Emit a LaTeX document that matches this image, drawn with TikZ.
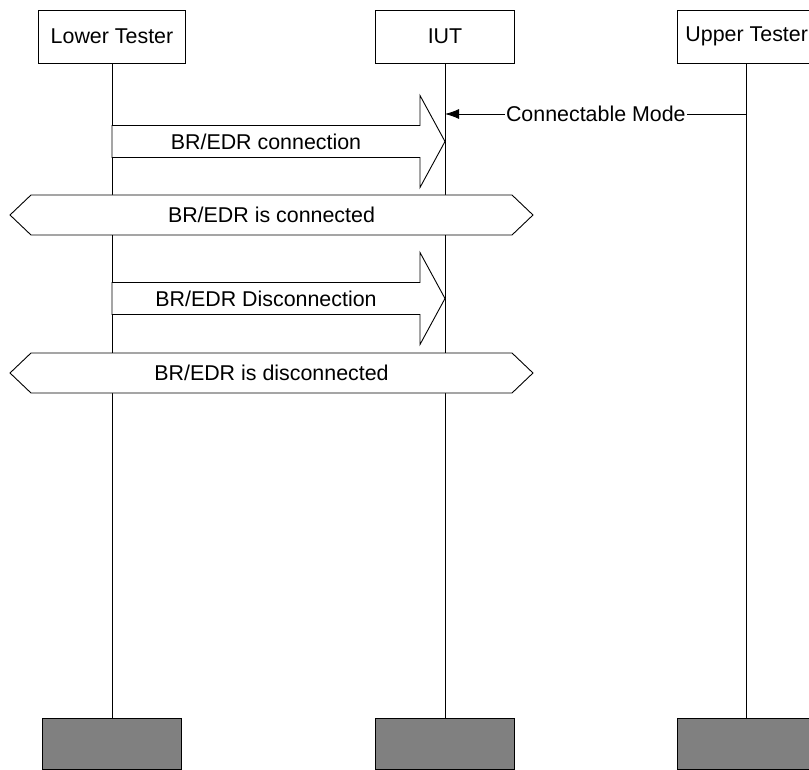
\documentclass[tikz,border=0pt]{standalone}
\usepackage{fontspec}
\setmainfont{Liberation Sans}
\usetikzlibrary{arrows.meta}

\begin{document}
\begin{tikzpicture}
 [
  x=1pt, y=-1pt,
  line width=0.9pt,
  >={Latex[length=14pt,width=10pt]},
  every node/.style = {font=\fontsize{21.4}{25}\selectfont},
  actor/.style = {draw, fill=white, minimum width=139pt, minimum height=53pt, inner sep=0pt},
  stub/.style  = {draw, fill=gray, minimum width=139pt, minimum height=51pt, inner sep=0pt},
 ]
 \def \xlt {112}    % lower tester lifeline
 \def \xiut {445}   % IUT lifeline
 \def \xut {746.7}  % upper tester lifeline
 \def \body {16}    % half height of the arrow shaft
 \def \head {46}    % half height of the arrow head
 \def \tip {25}     % length of the arrow head
 \def \bevel {21}   % slant of the state boxes

 \useasboundingbox (0,0) rectangle (809,770);

 \node[actor, minimum width=147pt] (lt) at (\xlt,36.5) {Lower Tester};
 \node[actor] (iut) at (\xiut,36.5) {IUT};
 \node[actor] (ut) at (\xut,36.5) {Upper Tester};

 \foreach \p/\xx in {lt/\xlt, iut/\xiut, ut/\xut}
 {
  \node[stub] (\p-end) at (\xx,743.5) {};
  \draw (\p) -- (\p-end);
 }

 \coordinate (cm-to) at (\xiut,114);
 \coordinate (cm-from) at (\xut,114);
 \draw[<-] (cm-to) -- node[fill=white, inner sep=1pt] (cm) {Connectable Mode} (cm-from);

 \foreach \yy/\txt/\name in {141.5/{BR/EDR connection}/conn, 298.5/{BR/EDR Disconnection}/disc}
 {
  \draw[fill=white] (\xlt,\yy-\body) -- (\xiut-\tip,\yy-\body) -- (\xiut-\tip,\yy-\head)
   -- (\xiut,\yy) -- (\xiut-\tip,\yy+\head) -- (\xiut-\tip,\yy+\body) -- (\xlt,\yy+\body) -- cycle;
  \node (\name) at ({(\xlt+\xiut-\tip)/2},\yy) {\txt};
 }

 % state boxes across the lower tester and the IUT
 \foreach \yy/\txt/\name in {215/{BR/EDR is connected}/conn-st, 373/{BR/EDR is disconnected}/disc-st}
 {
  \draw[fill=white] (10,\yy) -- (10+\bevel,\yy-20) -- (533-\bevel,\yy-20) -- (533,\yy)
   -- (533-\bevel,\yy+20) -- (10+\bevel,\yy+20) -- cycle;
  \node (\name) at (271.5,\yy) {\txt};
 }
\end{tikzpicture}
\end{document}
